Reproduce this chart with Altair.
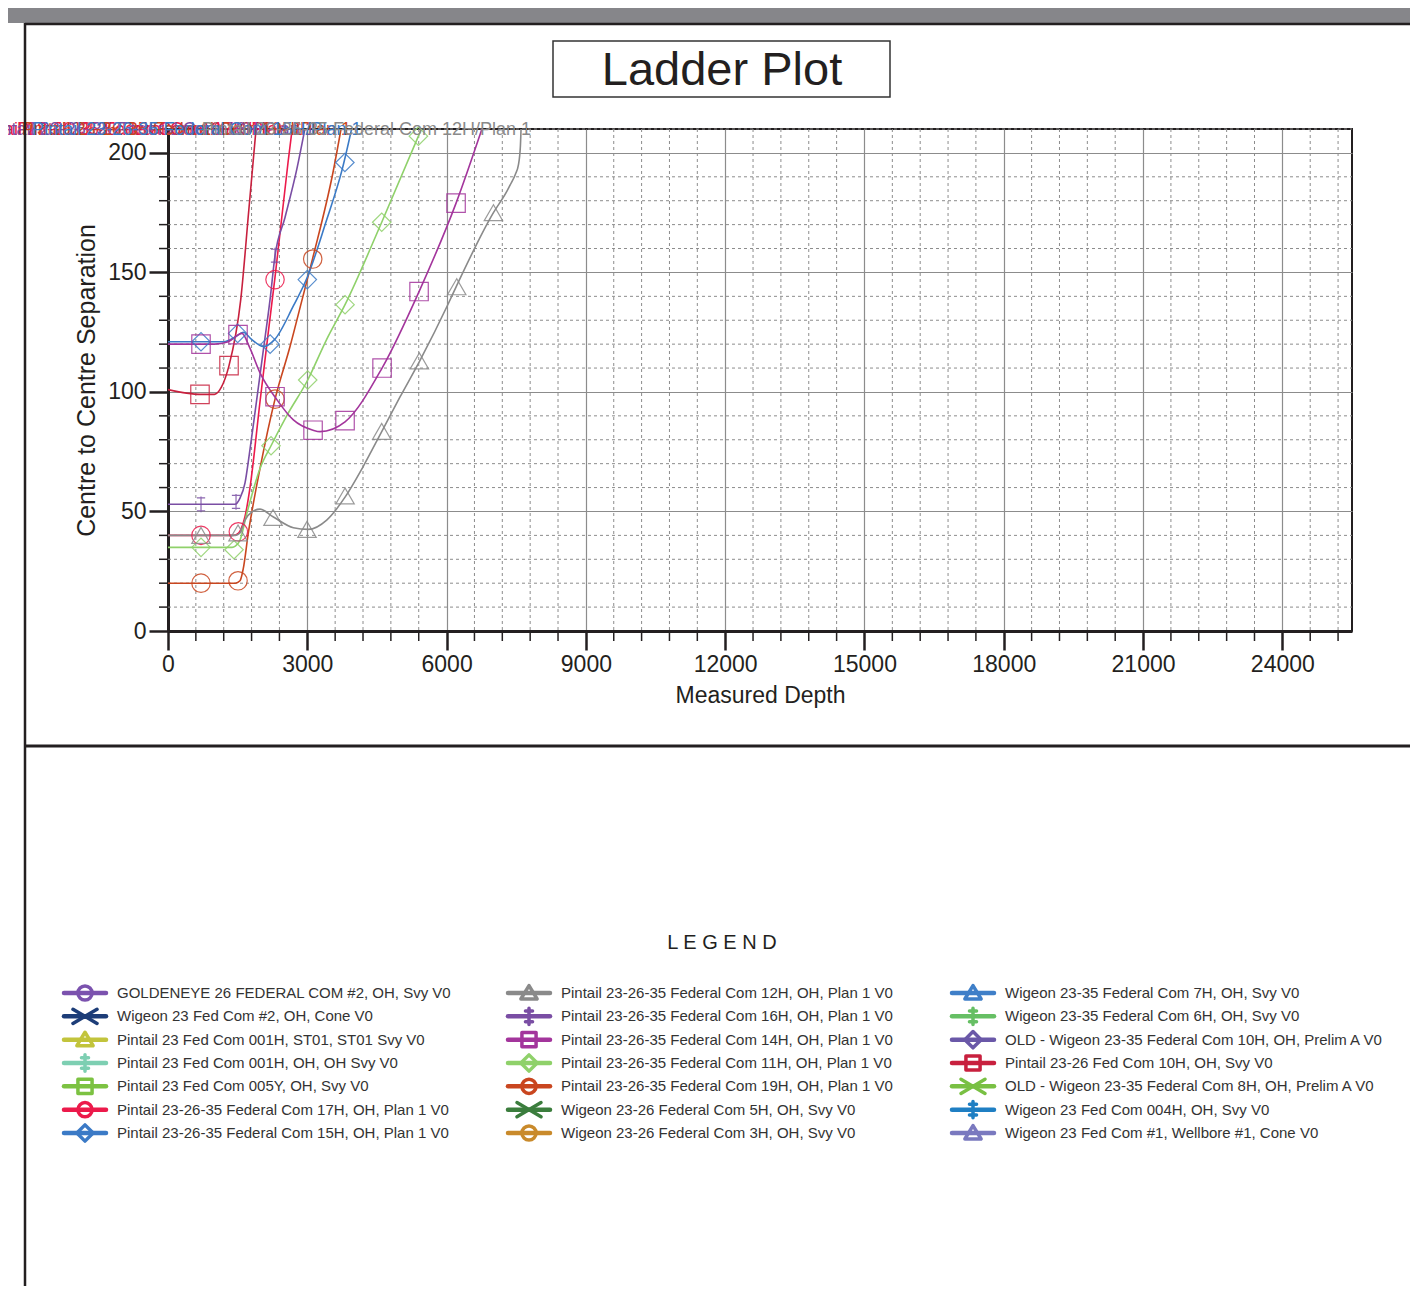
import altair as alt
import pandas as pd

FONT = "Liberation Sans"

# ---------------- legend entries ----------------
well_names = [
    "GOLDENEYE 26 FEDERAL COM #2, OH, Svy V0",
    "Wigeon 23 Fed Com #2, OH, Cone V0",
    "Pintail 23 Fed Com 001H, ST01, ST01 Svy V0",
    "Pintail 23 Fed Com 001H, OH, OH Svy V0",
    "Pintail 23 Fed Com 005Y, OH, Svy V0",
    "Pintail 23-26-35 Federal Com 17H, OH, Plan 1 V0",
    "Pintail 23-26-35 Federal Com 15H, OH, Plan 1 V0",
    "Pintail 23-26-35 Federal Com 12H, OH, Plan 1 V0",
    "Pintail 23-26-35 Federal Com 16H, OH, Plan 1 V0",
    "Pintail 23-26-35 Federal Com 14H, OH, Plan 1 V0",
    "Pintail 23-26-35 Federal Com 11H, OH, Plan 1 V0",
    "Pintail 23-26-35 Federal Com 19H, OH, Plan 1 V0",
    "Wigeon 23-26 Federal Com 5H, OH, Svy V0",
    "Wigeon 23-26 Federal Com 3H, OH, Svy V0",
    "Wigeon 23-35 Federal Com 7H, OH, Svy V0",
    "Wigeon 23-35 Federal Com 6H, OH, Svy V0",
    "OLD - Wigeon 23-35 Federal Com 10H, OH, Prelim A V0",
    "Pintail 23-26 Fed Com 10H, OH, Svy V0",
    "OLD - Wigeon 23-35 Federal Com 8H, OH, Prelim A V0",
    "Wigeon 23 Fed Com 004H, OH, Svy V0",
    "Wigeon 23 Fed Com #1, Wellbore #1, Cone V0",
]
well_colors = [
    "#7b52ae", "#1d3d78", "#c2c43c", "#7dcfb2", "#7cc242", "#ec1a4b", "#3b7ac6",
    "#8a8a8a", "#7a4ea4", "#a3359c", "#8fd16a", "#c9461f", "#3b7d3d", "#c98a2b",
    "#3f7fc8", "#66bf64", "#6a58a8", "#c8203e", "#79c043", "#1f7fc3", "#7a79bf",
]
well_shapes = [
    "circle", "xcross", "triangle", "dcross", "square", "circle", "diamond",
    "triangle", "dcross", "square", "diamond", "circle", "xcross", "circle",
    "triangle", "dcross", "diamond", "square", "xcross", "dcross", "triangle",
]
# symbol paths for the plot markers
plot_paths = {
    "circle": "circle",
    "square": "square",
    "diamond": "diamond",
    "triangle": "triangle-up",
    "xcross": "M-1,-0.6L1,0.6M-1,0.6L1,-0.6",
    "dcross": "M0,-0.85L0,0.85M-0.45,-0.7L0.45,-0.7M-0.45,0.7L0.45,0.7",
}
# symbol paths for the legend markers
legend_paths = {
    "L_circle": "circle",
    "L_square": "square",
    "L_diamond": "M0,-1.15L1.15,0L0,1.15L-1.15,0Z",
    "L_triangle": "M0,-1.05L1.15,0.85L-1.15,0.85Z",
    "L_xcross": "M-1.7,-1L1.7,1M-1.7,1L1.7,-1",
    "L_dcross": "M0,-1.15L0,1.15M-0.5,-0.75L0.5,-0.75M-0.5,0.75L0.5,0.75",
}

# ---------------- curves (MD, centre-to-centre separation) ----------------
c17_md = [0, 1400, 1520, 1600, 1660, 1766, 1982, 2154, 2305, 2585, 2700]
c17_sep = [40, 40, 41, 44, 48, 60, 96, 124, 148, 196, 214]
c17_mk_md = [711, 1515, 2305]
c17_mk_sep = [40, 41.5, 147]

c15_md = [0, 1200, 1450, 1620, 1800, 2050, 2300, 2700, 3000, 3400, 3750, 4000]
c15_sep = [121, 121, 123, 125, 122, 119, 122, 136, 148, 171, 193, 214]
c15_mk_md = [711, 1500, 2200, 3000, 3810]
c15_mk_sep = [121, 124.5, 120, 147, 196]

c12_md = [0, 1450, 1550, 1659, 1820, 1982, 2262, 2700, 3023, 3418, 3813, 4200,
          4603, 5000, 5414, 6039, 6218, 7009, 7300, 7367, 7480, 7547, 7590, 7610]
c12_sep = [40, 40, 41, 46.4, 50, 51, 47.8, 43.2, 42.5, 46.4, 56, 68.7,
           83.4, 98, 112.7, 137, 144.5, 175, 184, 186.5, 191, 195, 203, 214]
c12_mk_md = [711, 1508, 2262, 2994, 3813, 4603, 5414, 6218, 7009]
c12_mk_sep = [40, 41, 47.5, 42.5, 56.5, 83.5, 113, 144, 175]

c16_md = [0, 1440, 1551, 1659, 1752, 1910, 2054, 2197, 2305, 2520, 2772, 2987]
c16_sep = [53, 53, 55.6, 62, 74, 96.7, 117.6, 138.5, 157, 173, 193, 214]
c16_mk_md = [711, 1465, 2305]
c16_mk_sep = [53, 54, 157]

c14_md = [0, 1000, 1300, 1594, 1750, 1982, 2348, 2700, 3124, 3274, 3813, 4610, 5407, 6204, 6830]
c14_sep = [120, 120, 121, 124.5, 119, 108, 96.7, 88.3, 84, 83.4, 87.5, 110, 142, 179, 214]
c14_mk_md = [711, 1508, 2305, 3124, 3813, 4610, 5407, 6204]
c14_mk_sep = [120, 124, 98, 84, 88, 110, 142, 179]

c11_md = [0, 1380, 1450, 1551, 1695, 1982, 2219, 2556, 3009, 3418, 3813, 4603, 5393, 5500]
c11_sep = [35, 35, 35.5, 38, 49, 68, 77.5, 90, 105, 122, 136.5, 171, 207, 212]
c11_mk_md = [711, 1422, 2219, 3009, 3813, 4603, 5393]
c11_mk_sep = [35, 34, 77.5, 105, 136.5, 171, 207]

c19_md = [0, 1450, 1551, 1620, 1730, 1982, 2305, 2628, 2880, 3117, 3555, 3763]
c19_sep = [20, 20, 21, 26, 41, 68, 97, 119, 138, 156, 192, 214]
c19_mk_md = [711, 1508, 2305, 3117]
c19_mk_sep = [20, 21, 97, 155.6]

c10_md = [0, 400, 700, 1000, 1150, 1314, 1566, 1740, 1910]
c10_sep = [101, 99.5, 99, 99, 102, 111, 138.5, 176, 213]
c10_mk_md = [689, 1314]
c10_mk_sep = [99, 111]

# series drawn in the plot: (legend index, curve, markers, top label)
plotted = [
    (17, c10_md, c10_sep, c10_mk_md, c10_mk_sep, "Pintail 23-26 Fed Com 10H/OH"),
    (5, c17_md, c17_sep, c17_mk_md, c17_mk_sep, "Pintail 23-26-35 Federal Com 17H/Plan 1"),
    (8, c16_md, c16_sep, c16_mk_md, c16_mk_sep, "Pintail 23-26-35 Federal Com 16H/Plan 1"),
    (11, c19_md, c19_sep, c19_mk_md, c19_mk_sep, "Pintail 23-26-35 Federal Com 19H/Plan 1"),
    (6, c15_md, c15_sep, c15_mk_md, c15_mk_sep, "Pintail 23-26-35 Federal Com 15H/Plan 1"),
    (10, c11_md, c11_sep, c11_mk_md, c11_mk_sep, None),
    (9, c14_md, c14_sep, c14_mk_md, c14_mk_sep, None),
    (7, c12_md, c12_sep, c12_mk_md, c12_mk_sep, "Pintail 23-26-35 Federal Com 12H/Plan 1"),
]

X_MAX = 25500
Y_MAX = 210
W, H = 1184, 502

line_rows, mark_rows, label_rows = [], [], []
for k, (idx, md, sep, mmd, msep, lab) in enumerate(plotted):
    nm = well_names[idx]
    for i, (a, b) in enumerate(zip(md, sep)):
        line_rows.append({"name": nm, "md": a, "sep": b, "ord": i, "k": k})
    for a, b in zip(mmd, msep):
        mark_rows.append({"name": nm, "md": a, "sep": b, "shape": well_shapes[idx]})
    if lab:
        exit_md = md[-1]
        for i in range(1, len(md)):
            if sep[i] >= Y_MAX > sep[i - 1]:
                exit_md = md[i - 1] + (Y_MAX - sep[i - 1]) * (md[i] - md[i - 1]) / (sep[i] - sep[i - 1])
                break
        label_rows.append({"name": nm, "md": exit_md, "label": lab, "k": k})

lines_df = pd.DataFrame(line_rows)
marks_df = pd.DataFrame(mark_rows)
labels_df = pd.DataFrame(label_rows)

xs = alt.Scale(domain=[0, X_MAX], nice=False, zero=False)
ys = alt.Scale(domain=[0, Y_MAX], nice=False, zero=False)
color_scale = alt.Scale(domain=well_names, range=well_colors)
shape_scale = alt.Scale(domain=list(plot_paths.keys()) + list(legend_paths.keys()),
                        range=list(plot_paths.values()) + list(legend_paths.values()))

x_axis = alt.Axis(values=list(range(0, 24001, 3000)), format="d", title="Measured Depth",
                  grid=True, gridColor="#8c8c8c", gridWidth=1.2,
                  domainColor="#231f20", domainWidth=3, tickColor="#231f20", tickWidth=2.5,
                  tickSize=19, labelFontSize=23, labelFont=FONT, labelColor="#231f20",
                  labelPadding=3, titleFont=FONT, titleFontSize=23, titleFontWeight="normal",
                  titleColor="#231f20", titlePadding=8, labelFlush=False)
y_axis = alt.Axis(values=list(range(0, 201, 50)), format="d", title="Centre to Centre Separation",
                  grid=True, gridColor="#8c8c8c", gridWidth=1.2,
                  domainColor="#231f20", domainWidth=3, tickColor="#231f20", tickWidth=2.5,
                  tickSize=19, labelFontSize=23, labelFont=FONT, labelColor="#231f20",
                  labelPadding=3, titleFont=FONT, titleFontSize=25, titleFontWeight="normal",
                  titleColor="#231f20", titlePadding=8)

# minor grid / tick values
minor_x = [v for v in range(0, X_MAX + 1, 600) if v % 3000 != 0]
minor_y = [v for v in range(0, Y_MAX + 1, 10) if v % 50 != 0]
mx_df = pd.DataFrame({"v": minor_x})
my_df = pd.DataFrame({"v": minor_y})
one = pd.DataFrame({"a": [0]})

grid_x = alt.Chart(mx_df).mark_rule(color="#8c8c8c", strokeWidth=1, strokeDash=[3, 3]).encode(
    x=alt.X("v:Q", scale=xs, axis=x_axis), y=alt.value(0), y2=alt.value(H))
grid_y = alt.Chart(my_df).mark_rule(color="#8c8c8c", strokeWidth=1, strokeDash=[3, 3]).encode(
    y=alt.Y("v:Q", scale=ys, axis=y_axis), x=alt.value(0), x2=alt.value(W))
tick_x = alt.Chart(mx_df).mark_rule(color="#231f20", strokeWidth=1.5).encode(
    x=alt.X("v:Q", scale=xs, axis=x_axis), y=alt.value(H), y2=alt.value(H + 10))
tick_y = alt.Chart(my_df).mark_rule(color="#231f20", strokeWidth=1.5).encode(
    y=alt.Y("v:Q", scale=ys, axis=y_axis), x=alt.value(-9), x2=alt.value(0))

lines = alt.Chart(lines_df).mark_line(interpolate="monotone", strokeWidth=1.6, clip=True).encode(
    x=alt.X("md:Q", scale=xs, axis=x_axis),
    y=alt.Y("sep:Q", scale=ys, axis=y_axis),
    color=alt.Color("name:N", scale=color_scale, legend=None),
    detail="name:N",
    order="ord:Q",
)
markers = alt.Chart(marks_df).mark_point(filled=False, strokeWidth=1.2, size=340, opacity=0.85).encode(
    x=alt.X("md:Q", scale=xs, axis=x_axis),
    y=alt.Y("sep:Q", scale=ys, axis=y_axis),
    color=alt.Color("name:N", scale=color_scale, legend=None),
    shape=alt.Shape("shape:N", scale=shape_scale, legend=None),
)
top_labels = alt.Chart(labels_df).mark_text(align="right", baseline="middle", dx=10, fontSize=18,
                                             font=FONT).encode(
    x=alt.X("md:Q", scale=xs, axis=x_axis),
    y=alt.value(1),
    text="label:N",
    color=alt.Color("name:N", scale=color_scale, legend=None),
    order="k:Q",
)

# frame decorations (pixel offsets relative to plot origin)
gray_bar = alt.Chart(one).mark_rect(color="#86868a").encode(
    x=alt.value(-160), x2=alt.value(1250), y=alt.value(-121), y2=alt.value(-106))
frame_top = alt.Chart(one).mark_rule(color="#231f20", strokeWidth=2.5).encode(
    x=alt.value(-143), x2=alt.value(1250), y=alt.value(-105))
frame_left = alt.Chart(one).mark_rule(color="#231f20", strokeWidth=2.5).encode(
    x=alt.value(-143), y=alt.value(-106), y2=alt.value(1180))
frame_mid = alt.Chart(one).mark_rule(color="#231f20", strokeWidth=3).encode(
    x=alt.value(-143), x2=alt.value(1250), y=alt.value(617))
title_box = alt.Chart(one).mark_rect(fill="white", stroke="#333333", strokeWidth=1.5).encode(
    x=alt.value(385), x2=alt.value(722), y=alt.value(-88), y2=alt.value(-32))
title_text = alt.Chart(one).mark_text(fontSize=47, font=FONT, color="#231f20",
                                      align="center", baseline="middle").encode(
    x=alt.value(554), y=alt.value(-58), text=alt.value("Ladder Plot"))
legend_title = alt.Chart(one).mark_text(fontSize=20, font=FONT, color="#231f20",
                                        align="center", baseline="middle").encode(
    x=alt.value(554), y=alt.value(814), text=alt.value("L E G E N D"))

main = alt.layer(grid_x, grid_y, tick_x, tick_y, lines, markers, top_labels,
                 gray_bar, frame_top, frame_left, frame_mid, title_box, title_text, legend_title)

# legend block (3 columns x 7 rows)
leg_df = pd.DataFrame({
    "name": well_names,
    "lshape": ["L_" + s for s in well_shapes],
    "col": [i // 7 for i in range(len(well_names))],
    "row": [i % 7 for i in range(len(well_names))],
})
lx = alt.Scale(domain=[0, 2], range=[-83, 805])
ly = alt.Scale(domain=[0, 6], range=[864, 1004])
leg_base = alt.Chart(leg_df)
leg_line = leg_base.mark_rule(strokeWidth=4.5, xOffset=-21, x2Offset=21, strokeCap="round").encode(
    x=alt.X("col:Q", scale=lx, axis=None), x2="col:Q",
    y=alt.Y("row:Q", scale=ly, axis=None),
    color=alt.Color("name:N", scale=color_scale, legend=None))
leg_mark = leg_base.mark_point(filled=False, strokeWidth=3.5, size=200, opacity=1,
                               strokeJoin="round", strokeCap="round").encode(
    x=alt.X("col:Q", scale=lx, axis=None),
    y=alt.Y("row:Q", scale=ly, axis=None),
    color=alt.Color("name:N", scale=color_scale, legend=None),
    shape=alt.Shape("lshape:N", scale=shape_scale, legend=None))
leg_text = leg_base.mark_text(align="left", baseline="middle", dx=32, fontSize=15, font=FONT,
                              color="#333333").encode(
    x=alt.X("col:Q", scale=lx, axis=None),
    y=alt.Y("row:Q", scale=ly, axis=None),
    text="name:N")
legend = alt.layer(leg_line, leg_mark, leg_text)

chart = alt.layer(main, legend).resolve_scale(x="independent", y="independent").properties(
    width=W, height=H,
    autosize=alt.AutoSizeParams(type="none"),
    padding={"left": 160, "top": 121, "right": 58, "bottom": 655},
    background="white",
).configure_view(stroke="#231f20", strokeWidth=2)

chart.save("out.html", embed_options={"renderer": "svg", "actions": False})
